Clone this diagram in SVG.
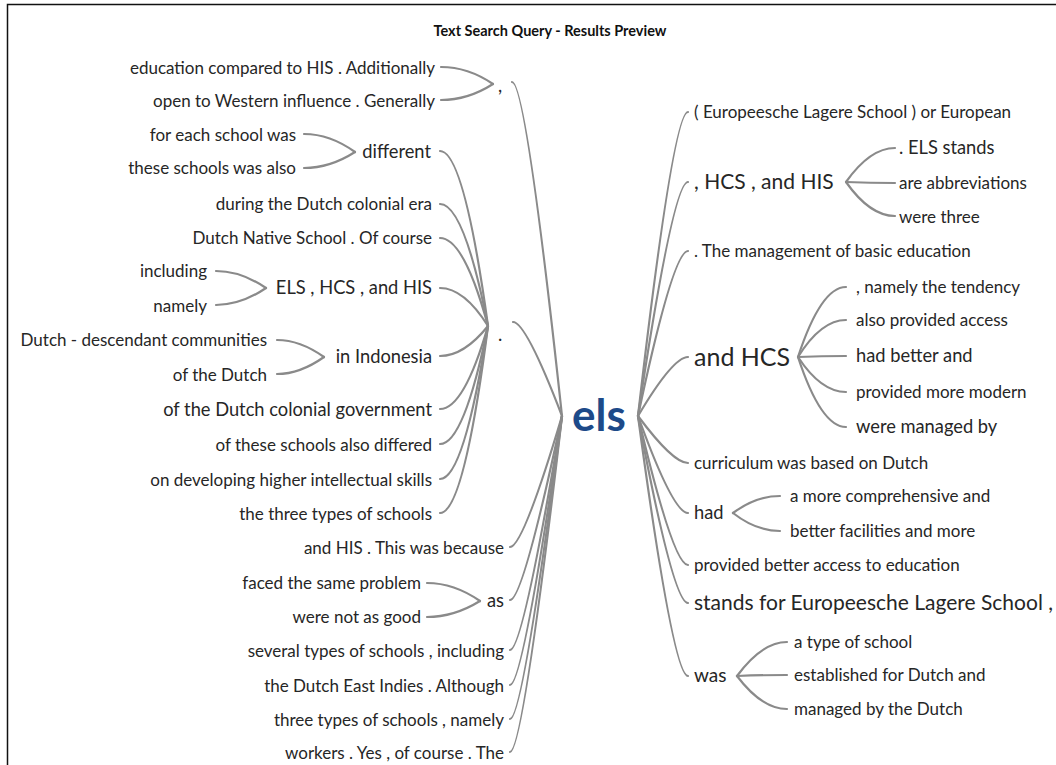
<svg xmlns="http://www.w3.org/2000/svg" width="1056" height="765" viewBox="0 0 1056 765">
<style>
text{font-family:Lato,"Open Sans","Liberation Sans",sans-serif;fill:#262626}
.e{text-anchor:end}
.s17{font-size:17px}
.s18{font-size:18.3px}
.s19{font-size:19px}
.s21{font-size:21px}
.s25{font-size:25px}
.title{font-size:14.5px;font-weight:bold;fill:#111;text-anchor:middle}
.root{font-size:44px;font-weight:bold;fill:#1d4a89;text-anchor:middle}
#connectors path{fill:none;stroke:#8a8a8a;stroke-width:2.2;stroke-linecap:round}
</style>
<rect width="1056" height="765" fill="#fff"/>
<path d="M7.5,765 V4.5 H1056" fill="none" stroke="#111" stroke-width="1.5"/>
<text class="title" x="550" y="36">Text Search Query - Results Preview</text>

<g id="connectors">
<!-- left first level -->
<path d="M512,82 Q526,82 562,416"/>
<path d="M513,322 Q526,322 562,416"/>
<path d="M510,547 Q523,547 562,416"/>
<path d="M510,600 Q523,600 562,416"/>
<path d="M510,650 Q523,650 562,416"/>
<path d="M510,685 Q523,685 562,416"/>
<path d="M510,719 Q523,719 562,416"/>
<path d="M510,752 Q523,752 562,416"/>
<!-- comma children -->
<path d="M441,67 Q468,67 493,84"/>
<path d="M441,100 Q468,100 493,84"/>
<!-- period children -->
<path d="M440,151 Q464,151 488,326"/>
<path d="M440,204 Q464,204 488,326"/>
<path d="M440,238 Q464,238 488,326"/>
<path d="M440,288 Q464,288 488,326"/>
<path d="M440,356 Q464,356 488,326"/>
<path d="M440,409 Q464,409 488,326"/>
<path d="M440,444 Q464,444 488,326"/>
<path d="M440,479 Q464,479 488,326"/>
<path d="M440,513 Q464,513 488,326"/>
<!-- different children -->
<path d="M304,134 Q330,134 355,152"/>
<path d="M304,168 Q330,168 355,152"/>
<!-- ELS children -->
<path d="M216,271 Q241,271 266,288"/>
<path d="M216,305 Q241,305 266,288"/>
<!-- in Indonesia children -->
<path d="M277,340 Q300,340 324,357"/>
<path d="M277,374 Q300,374 324,357"/>
<!-- as children -->
<path d="M427,583 Q454,583 480,601"/>
<path d="M427,617 Q454,617 480,601"/>
<!-- right first level -->
<path d="M688,112 Q673,112 638,416"/>
<path d="M688,182 Q673,182 638,416"/>
<path d="M688,251 Q673,251 638,416"/>
<path d="M688,357 Q673,357 638,416"/>
<path d="M688,463 Q673,463 638,416"/>
<path d="M688,513 Q673,513 638,416"/>
<path d="M688,565 Q673,565 638,416"/>
<path d="M688,603 Q673,603 638,416"/>
<path d="M688,676 Q673,676 638,416"/>
<!-- , HCS , and HIS children -->
<path d="M895,148 Q870,148 846,182"/>
<path d="M895,183 Q870,183 846,182"/>
<path d="M895,216 Q870,216 846,182"/>
<!-- and HCS children -->
<path d="M846,287 Q821,287 798,357"/>
<path d="M846,320 Q821,320 798,357"/>
<path d="M846,356 Q821,356 798,357"/>
<path d="M846,392 Q821,392 798,357"/>
<path d="M846,427 Q821,427 798,357"/>
<!-- had children -->
<path d="M780,496 Q756,496 733,513"/>
<path d="M780,531 Q756,531 733,513"/>
<!-- was children -->
<path d="M787,642 Q762,642 737,676"/>
<path d="M787,675 Q762,675 737,676"/>
<path d="M787,709 Q762,709 737,676"/>
</g>

<g id="n-els"><text class="root" x="599" y="431">els</text></g>

<!-- left side -->
<g id="n-comma"><text class="s18" x="498" y="92">,</text></g>
<g id="n-c1"><text class="s17 e" x="435" y="74">education compared to HIS . Additionally</text></g>
<g id="n-c2"><text class="s17 e" x="435" y="107">open to Western influence . Generally</text></g>

<g id="n-period"><text class="s18" x="498" y="341">.</text></g>
<g id="n-different"><text class="s18 e" x="431" y="158">different</text></g>
<g id="n-d1"><text class="s17 e" x="296" y="141">for each school was</text></g>
<g id="n-d2"><text class="s17 e" x="296" y="174">these schools was also</text></g>
<g id="n-p2"><text class="s17 e" x="432" y="210">during the Dutch colonial era</text></g>
<g id="n-p3"><text class="s17 e" x="432" y="244">Dutch Native School . Of course</text></g>
<g id="n-els3"><text class="s18 e" x="432" y="294">ELS , HCS , and HIS</text></g>
<g id="n-e1"><text class="s17 e" x="207" y="277">including</text></g>
<g id="n-e2"><text class="s17 e" x="207" y="312">namely</text></g>
<g id="n-indo"><text class="s18 e" x="432" y="363">in Indonesia</text></g>
<g id="n-i1"><text class="s17 e" x="267" y="346">Dutch - descendant communities</text></g>
<g id="n-i2"><text class="s17 e" x="267" y="381">of the Dutch</text></g>
<g id="n-p6"><text class="s18 e" x="432" y="416">of the Dutch colonial government</text></g>
<g id="n-p7"><text class="s17 e" x="432" y="451">of these schools also differed</text></g>
<g id="n-p8"><text class="s17 e" x="432" y="486">on developing higher intellectual skills</text></g>
<g id="n-p9"><text class="s17 e" x="432" y="520">the three types of schools</text></g>

<g id="n-l3"><text class="s17 e" x="504" y="554">and HIS . This was because</text></g>
<g id="n-as"><text class="s18 e" x="504" y="607">as</text></g>
<g id="n-a1"><text class="s17 e" x="421" y="589">faced the same problem</text></g>
<g id="n-a2"><text class="s17 e" x="421" y="623">were not as good</text></g>
<g id="n-l5"><text class="s17 e" x="504" y="657">several types of schools , including</text></g>
<g id="n-l6"><text class="s17 e" x="504" y="692">the Dutch East Indies . Although</text></g>
<g id="n-l7"><text class="s17 e" x="504" y="726">three types of schools , namely</text></g>
<g id="n-l8"><text class="s17 e" x="504" y="759">workers . Yes , of course . The</text></g>

<!-- right side -->
<g id="n-r1"><text class="s17" x="694" y="118">( Europeesche Lagere School ) or European</text></g>
<g id="n-r2"><text class="s21" x="694" y="189">, HCS , and HIS</text></g>
<g id="n-r2a"><text class="s18" x="899" y="154">. ELS stands</text></g>
<g id="n-r2b"><text class="s17" x="899" y="189">are abbreviations</text></g>
<g id="n-r2c"><text class="s17" x="899" y="223">were three</text></g>
<g id="n-r3"><text class="s17" x="694" y="257">. The management of basic education</text></g>
<g id="n-r4"><text class="s25" x="694" y="366">and HCS</text></g>
<g id="n-r4a"><text class="s17" x="856" y="293">, namely the tendency</text></g>
<g id="n-r4b"><text class="s17" x="856" y="326">also provided access</text></g>
<g id="n-r4c"><text class="s18" x="856" y="362">had better and</text></g>
<g id="n-r4d"><text class="s17" x="856" y="398">provided more modern</text></g>
<g id="n-r4e"><text class="s18" x="856" y="433">were managed by</text></g>
<g id="n-r5"><text class="s17" x="694" y="469">curriculum was based on Dutch</text></g>
<g id="n-r6"><text class="s18" x="694" y="519">had</text></g>
<g id="n-r6a"><text class="s17" x="790" y="502">a more comprehensive and</text></g>
<g id="n-r6b"><text class="s17" x="790" y="537">better facilities and more</text></g>
<g id="n-r7"><text class="s17" x="694" y="571">provided better access to education</text></g>
<g id="n-r8"><text class="s21" x="694" y="610">stands for Europeesche Lagere School ,</text></g>
<g id="n-r9"><text class="s19" x="694" y="682">was</text></g>
<g id="n-r9a"><text class="s17" x="794" y="648">a type of school</text></g>
<g id="n-r9b"><text class="s17" x="794" y="681">established for Dutch and</text></g>
<g id="n-r9c"><text class="s17" x="794" y="715">managed by the Dutch</text></g>
</svg>
